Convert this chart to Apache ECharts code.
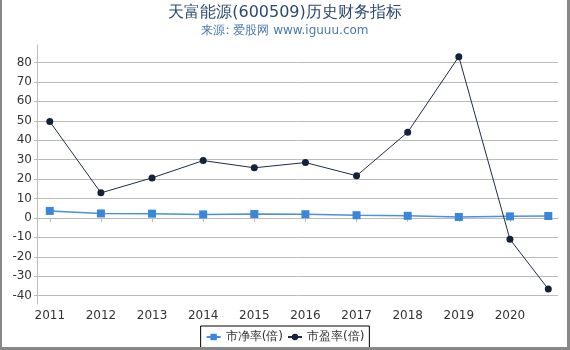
<!DOCTYPE html>
<html>
<head>
<meta charset="utf-8">
<script src="https://cdn.jsdelivr.net/npm/echarts@6/dist/echarts.min.js"></script>
<style>
    html, body { margin: 0; padding: 0; background: #fff; }
    #chart { width: 570px; height: 350px; }
    #frame { position: absolute; left: 0; top: 0; width: 570px; height: 350px; box-sizing: border-box;
        border-left: 2px solid #888; border-right: 3px solid #888; border-bottom: 3px solid #888; pointer-events: none; }
</style>
</head>
<body>
<div id="chart"></div>
<div id="frame"></div>
<script>
// 年份（最后一个点约为2020年三季度）
var years = [2011, 2012, 2013, 2014, 2015, 2016, 2017, 2018, 2019, 2020, 2020.75];
var yearLabels = [2011, 2012, 2013, 2014, 2015, 2016, 2017, 2018, 2019, 2020];
// 市净率(倍)
var pbValues = [3.6, 2.3, 2.2, 1.8, 2.0, 1.9, 1.4, 1.1, 0.5, 0.8, 1.0];
// 市盈率(倍)
var peValues = [49.6, 12.9, 20.6, 29.5, 25.8, 28.5, 21.7, 44.1, 83.0, -11.0, -36.6];
var yTicks = [-40, -30, -20, -10, 0, 10, 20, 30, 40, 50, 60, 70, 80];

function pairs(xs, ys) {
    var out = [];
    for (var i = 0; i < xs.length; i++) {
        out.push([xs[i], ys[i]]);
    }
    return out;
}

var chart = echarts.init(document.getElementById('chart'));
var option = {
    animation: false,
    textStyle: { fontFamily: 'DejaVu Sans' },
    title: {
        text: '天富能源(600509)历史财务指标',
        subtext: '来源: 爱股网 www.iguuu.com',
        left: 'center',
        top: 0,
        itemGap: 4,
        textStyle: { fontSize: 16, fontWeight: 'normal', color: '#2b4a6e', fontFamily: 'DejaVu Sans' },
        subtextStyle: { fontSize: 12, color: '#4a78b0', fontFamily: 'DejaVu Sans' }
    },
    legend: {
        bottom: 2,
        left: 'center',
        padding: [5, 5],
        borderColor: '#000',
        borderWidth: 1,
        itemGap: 4,
        itemWidth: 14,
        itemHeight: 8,
        textStyle: { fontSize: 12, color: '#333', fontFamily: 'DejaVu Sans' },
        data: ['市净率(倍)', '市盈率(倍)']
    },
    grid: {
        left: 37,
        right: 12,
        top: 45,
        bottom: 46
    },
    xAxis: {
        type: 'value',
        min: 2010.75,
        max: 2020.94,
        axisLine: { show: true, lineStyle: { color: '#bbb' } },
        axisTick: { show: true, customValues: yearLabels, length: 4, lineStyle: { color: '#bbb' } },
        axisLabel: {
            customValues: yearLabels,
            color: '#333',
            fontSize: 12,
            margin: 6,
            formatter: function (v) { return String(Math.round(v)); }
        },
        splitLine: { show: false }
    },
    yAxis: {
        type: 'value',
        min: -44.3,
        max: 89,
        axisLine: { show: true, lineStyle: { color: '#bbb' } },
        axisTick: { show: true, customValues: yTicks, length: 3, lineStyle: { color: '#bbb' } },
        axisLabel: { customValues: yTicks, color: '#333', fontSize: 12, margin: 5 },
        splitLine: { show: true, lineStyle: { color: '#bbb', width: 1 } }
    },
    series: [
        {
            name: '市净率(倍)',
            type: 'line',
            data: pairs(years, pbValues),
            symbol: 'rect',
            symbolSize: 8,
            itemStyle: { color: '#3a86d8' },
            lineStyle: { color: '#4a90e0', width: 1.5 }
        },
        {
            name: '市盈率(倍)',
            type: 'line',
            data: pairs(years, peValues),
            symbol: 'circle',
            symbolSize: 7,
            itemStyle: { color: '#14213d' },
            lineStyle: { color: '#1f2d45', width: 1 }
        }
    ]
};
chart.setOption(option);
</script>
</body>
</html>
